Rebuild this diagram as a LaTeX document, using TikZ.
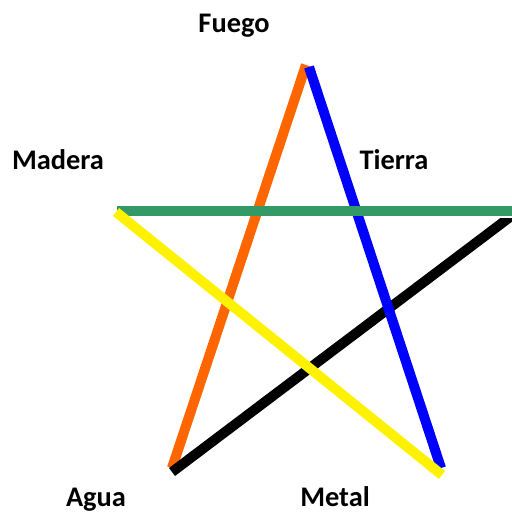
\documentclass[tikz,border=0pt]{standalone}
\usepackage{fontspec}
\setmainfont{Carlito}
\begin{document}
\begin{tikzpicture}[x=1bp,y=-1bp,
  lbl/.style={font=\bfseries\fontsize{28.5}{32}\selectfont, anchor=base, inner sep=0pt},
  seg/.style={line width=10bp, line cap=butt}]
\useasboundingbox (0,0) rectangle (512,514);
\coordinate (top) at (306,65);
\coordinate (bl) at (172,468);
\coordinate (br) at (442,472);
\coordinate (ml) at (117,211);
\coordinate (mr) at (514,211);
\coordinate (blk) at (172,472);
\coordinate (rk) at (514,214);
\coordinate (yl) at (116,212);
\coordinate (yr) at (442,475);
\coordinate (bt) at (309,67);
\coordinate (bb) at (441,468);
\draw[seg, color={rgb,255:red,255;green,102;blue,0}] (bl) -- (top);
\begin{scope}
\clip (0,218) rectangle (512,514);
\draw[seg, black] (blk) -- (rk);
\end{scope}
\draw[seg, blue] (bt) -- (bb);
\draw[seg, color={rgb,255:red,51;green,153;blue,102}] (ml) -- (mr);
\draw[seg, yellow] (yl) -- (yr);
\node[lbl] (fuego) at (234,33) {Fuego};
\node[lbl] (madera) at (58,170) {Madera};
\node[lbl] (tierra) at (394,170) {Tierra};
\node[lbl] (agua) at (96,506) {Agua};
\node[lbl] (metal) at (335,506) {Metal};
\end{tikzpicture}
\end{document}
